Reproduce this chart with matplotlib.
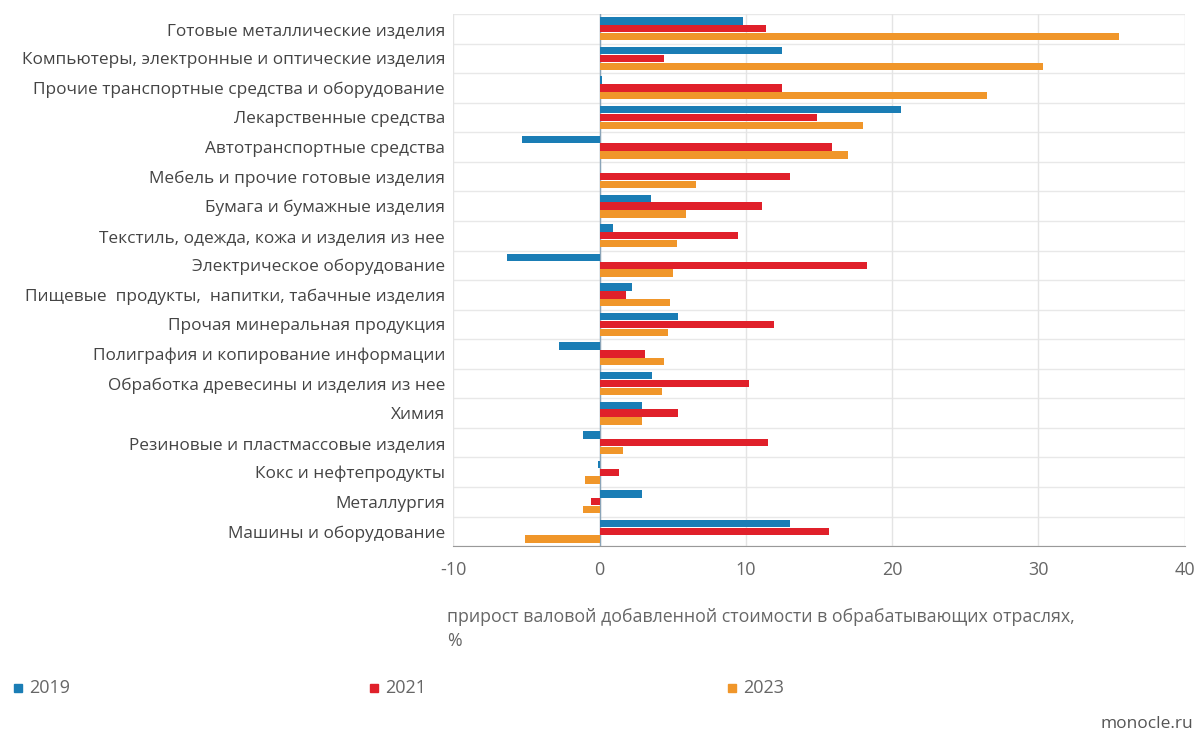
import matplotlib
matplotlib.use("Agg")
import matplotlib.pyplot as plt
import numpy as np

categories = [
    "Готовые металлические изделия",
    "Компьютеры, электронные и оптические изделия",
    "Прочие транспортные средства и оборудование",
    "Лекарственные средства",
    "Автотранспортные средства",
    "Мебель и прочие готовые изделия",
    "Бумага и бумажные изделия",
    "Текстиль, одежда, кожа и изделия из нее",
    "Электрическое оборудование",
    "Пищевые  продукты,  напитки, табачные изделия",
    "Прочая минеральная продукция",
    "Полиграфия и копирование информации",
    "Обработка древесины и изделия из нее",
    "Химия",
    "Резиновые и пластмассовые изделия",
    "Кокс и нефтепродукты",
    "Металлургия",
    "Машины и оборудование",
]

years = ["2019", "2021", "2023"]
v2019 = [9.8, 12.5, 0.2, 20.6, -5.3, 0.0, 3.5, 0.95, -6.3, 2.2, 5.4, -2.8, 3.6, 2.9, -1.1, -0.1, 2.9, 13.0]
v2021 = [11.4, 4.4, 12.5, 14.9, 15.9, 13.0, 11.1, 9.5, 18.3, 1.8, 11.9, 3.1, 10.2, 5.4, 11.5, 1.3, -0.6, 15.7]
v2023 = [35.5, 30.3, 26.5, 18.0, 17.0, 6.6, 5.9, 5.3, 5.0, 4.8, 4.7, 4.4, 4.3, 2.9, 1.6, -1.0, -1.1, -5.1]

colors = ["#1a7db5", "#e0202a", "#f0962a"]
txt = "#444444"

plt.rcParams["font.family"] = ["Open Sans", "DejaVu Sans"]
plt.rcParams["axes.unicode_minus"] = False

fig = plt.figure(figsize=(11.99, 7.38), dpi=100)
ax = fig.add_axes([0.378, 0.26, 0.61, 0.721])

n = len(categories)
y = np.arange(n)
h = 0.265
for i, vals in enumerate([v2019, v2021, v2023]):
    ax.barh(y + (i - 1) * h, vals, height=h * 0.94, color=colors[i], label=years[i], zorder=3)

ax.set_ylim(n - 0.5, -0.5)
ax.set_xlim(-10, 40)
ax.set_xticks([-10, 0, 10, 20, 30, 40])
ax.set_yticks(y)
ax.set_yticklabels(categories, fontsize=12.4, color=txt)
ax.tick_params(axis="y", length=0, pad=6)
ax.tick_params(axis="x", length=0, pad=11, labelsize=13, labelcolor="#666666")

# вертикальная сетка и разделители между отраслями
ax.grid(axis="x", color="#e4e4e4", linewidth=1, zorder=0)
for b in np.arange(-0.5, n, 1.0):
    ax.axhline(b, color="#e8e8e8", linewidth=1, zorder=0)
ax.axvline(0, color="#8aa4b8", linewidth=1, zorder=2)

for s in ["top", "right", "left"]:
    ax.spines[s].set_visible(False)
ax.spines["bottom"].set_color("#999999")

fig.text(0.373, 0.148, "прирост валовой добавленной стоимости в обрабатывающих отраслях,\n%",
         fontsize=12.8, color="#666666", va="center", ha="left", linespacing=1.4)

# легенда
for xs, lab, c in zip([0.012, 0.309, 0.607], years, colors):
    fig.patches.append(plt.Rectangle((xs, 0.063), 0.0065, 0.0105, color=c, transform=fig.transFigure))
    fig.text(xs + 0.0125, 0.068, lab, fontsize=13, color="#666666", va="center")

fig.text(0.995, 0.008, "monocle.ru", fontsize=12.5, color="#555555", ha="right", va="bottom")

fig.savefig("out.png", dpi=100, facecolor="white")
